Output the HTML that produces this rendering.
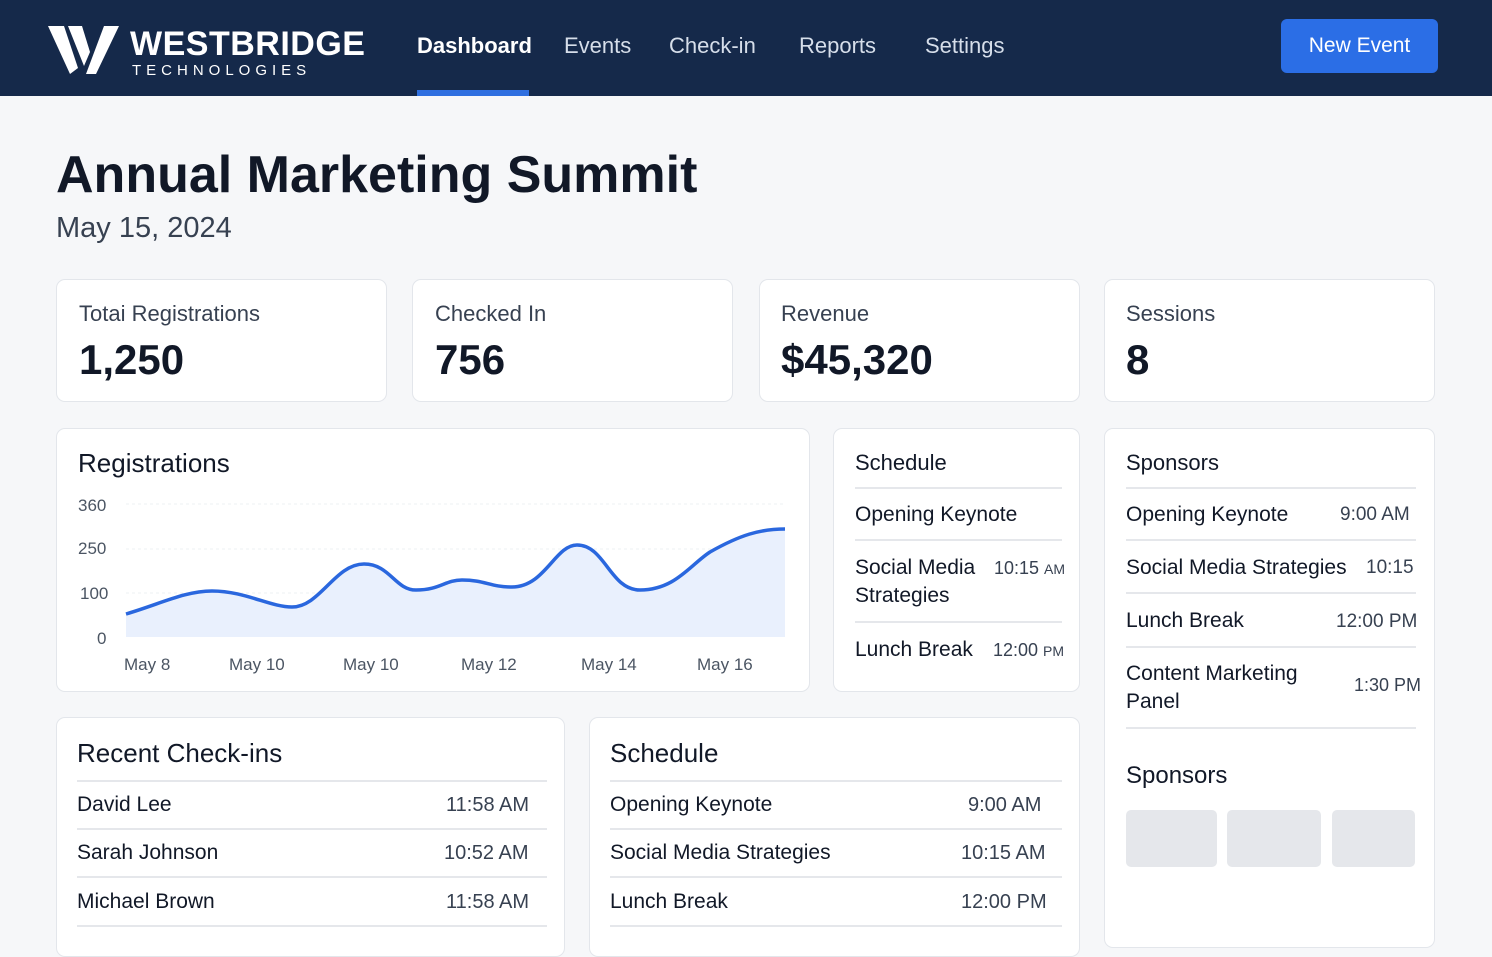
<!DOCTYPE html>
<html><head><meta charset="utf-8"><style>
*{box-sizing:border-box;margin:0;padding:0}
body{width:1492px;height:938px;overflow:hidden;background:#f6f7f9;font-family:"Liberation Sans",sans-serif;color:#111827;position:relative}
.a{position:absolute;white-space:nowrap}
.hdr{position:absolute;left:0;top:0;width:1492px;height:96px;background:#15294a}
.nav{font-size:22px;color:#d6deea;top:33px}
.card{position:absolute;background:#fff;border:1.5px solid #e3e6eb;border-radius:9px}
.lbl{font-size:22px;color:#374151}
.big{font-size:42px;font-weight:bold;color:#111827}
.t{font-size:21px;color:#111827}
.tm{font-size:19px;color:#374151}
.ln{position:absolute;height:1.5px;background:#e5e7eb}
.ax{font-size:17px;color:#4b5563}
</style></head><body>
<div class="hdr"></div>
<svg class="a" style="left:48px;top:24px" width="72" height="52" viewBox="0 0 72 52"><polygon points="0,2 16,2 30,44 22,50" fill="#fff"/><polygon points="20,2 34,2 42,28 36,42" fill="#fff"/><polygon points="56,2 71,2 48,50 38,50" fill="#fff"/></svg>
<div class="a" style="left:130px;top:25px;font-size:34px;font-weight:bold;color:#fff;letter-spacing:0.5px">WESTBRIDGE</div>
<div class="a" style="left:132px;top:62px;font-size:15px;color:#fff;letter-spacing:5px">TECHNOLOGIES</div>
<div class="a nav" style="left:417px;color:#fff;font-weight:bold">Dashboard</div>
<div class="a" style="left:417px;top:90px;width:112px;height:6px;background:#2f6fe0"></div>
<div class="a nav" style="left:564px">Events</div>
<div class="a nav" style="left:669px">Check-in</div>
<div class="a nav" style="left:799px">Reports</div>
<div class="a nav" style="left:925px">Settings</div>
<div class="a" style="left:1281px;top:19px;width:157px;height:54px;background:#2b6ee6;border-radius:6px;color:#fff;font-size:21px;text-align:center;line-height:54px">New Event</div>

<div class="a" style="left:56px;top:145px;font-size:52px;font-weight:bold;color:#111827">Annual Marketing Summit</div>
<div class="a" style="left:56px;top:212px;font-size:29px;color:#374151">May 15, 2024</div>

<div class="card" style="left:56px;top:279px;width:331px;height:123px"></div>
<div class="a lbl" style="left:79px;top:301px">Totai Registrations</div>
<div class="a big" style="left:79px;top:336px">1,250</div>
<div class="card" style="left:412px;top:279px;width:321px;height:123px"></div>
<div class="a lbl" style="left:435px;top:301px">Checked In</div>
<div class="a big" style="left:435px;top:336px">756</div>
<div class="card" style="left:759px;top:279px;width:321px;height:123px"></div>
<div class="a lbl" style="left:781px;top:301px">Revenue</div>
<div class="a big" style="left:781px;top:336px">$45,320</div>
<div class="card" style="left:1104px;top:279px;width:331px;height:123px"></div>
<div class="a lbl" style="left:1126px;top:301px">Sessions</div>
<div class="a big" style="left:1126px;top:336px">8</div>

<!-- chart -->
<div class="card" style="left:56px;top:428px;width:754px;height:264px"></div>
<div class="a" style="left:78px;top:448px;font-size:26px;color:#111827">Registrations</div>
<div class="a ax" style="left:78px;top:496px">360</div>
<div class="a ax" style="left:78px;top:539px">250</div>
<div class="a ax" style="left:80px;top:584px">100</div>
<div class="a ax" style="left:97px;top:629px">0</div>
<svg class="a" style="left:0;top:0" width="820" height="700">
<line x1="126" y1="504" x2="786" y2="504" stroke="#eef0f3" stroke-dasharray="3 3"/>
<line x1="126" y1="549" x2="786" y2="549" stroke="#eef0f3" stroke-dasharray="3 3"/>
<line x1="126" y1="593" x2="786" y2="593" stroke="#eef0f3" stroke-dasharray="3 3"/>
<path d="M126,614 C160,604 185,591 212,591 C245,591 270,607 292,607 C320,607 335,564 364,564 C390,564 395,590 416,590 C440,590 445,580 462,580 C485,580 490,587 512,587 C545,587 555,545 577,545 C605,545 610,590 640,590 C675,590 690,565 710,552 C740,535 760,529 785,529 L785,637 L126,637 Z" fill="#e9f0fd"/>
<path d="M126,614 C160,604 185,591 212,591 C245,591 270,607 292,607 C320,607 335,564 364,564 C390,564 395,590 416,590 C440,590 445,580 462,580 C485,580 490,587 512,587 C545,587 555,545 577,545 C605,545 610,590 640,590 C675,590 690,565 710,552 C740,535 760,529 785,529" fill="none" stroke="#2a67de" stroke-width="3.5"/>
</svg>
<div class="a ax" style="left:124px;top:655px">May 8</div>
<div class="a ax" style="left:229px;top:655px">May 10</div>
<div class="a ax" style="left:343px;top:655px">May 10</div>
<div class="a ax" style="left:461px;top:655px">May 12</div>
<div class="a ax" style="left:581px;top:655px">May 14</div>
<div class="a ax" style="left:697px;top:655px">May 16</div>

<!-- schedule small -->
<div class="card" style="left:833px;top:428px;width:247px;height:264px"></div>
<div class="a t" style="left:855px;top:450px;font-size:22px">Schedule</div>
<div class="ln" style="left:855px;top:487px;width:207px"></div>
<div class="a t" style="left:855px;top:503px">Opening Keynote</div>
<div class="ln" style="left:855px;top:539px;width:207px"></div>
<div class="a t" style="left:855px;top:556px">Social Media</div>
<div class="a t" style="left:855px;top:584px">Strategies</div>
<div class="a tm" style="left:994px;top:558px;font-size:18px">10:15 <span style="font-size:14px">AM</span></div>
<div class="ln" style="left:855px;top:621px;width:207px"></div>
<div class="a t" style="left:855px;top:638px">Lunch Break</div>
<div class="a tm" style="left:993px;top:640px;font-size:18px">12:00 <span style="font-size:14px">PM</span></div>

<!-- sponsors -->
<div class="card" style="left:1104px;top:428px;width:331px;height:520px"></div>
<div class="a t" style="left:1126px;top:450px;font-size:22px">Sponsors</div>
<div class="ln" style="left:1126px;top:487px;width:290px"></div>
<div class="a t" style="left:1126px;top:503px">Opening Keynote</div>
<div class="a tm" style="left:1340px;top:504px">9:00 AM</div>
<div class="ln" style="left:1126px;top:539px;width:290px"></div>
<div class="a t" style="left:1126px;top:556px">Social Media Strategies</div>
<div class="a tm" style="left:1366px;top:557px">10:15</div>
<div class="ln" style="left:1126px;top:592px;width:290px"></div>
<div class="a t" style="left:1126px;top:609px">Lunch Break</div>
<div class="a tm" style="left:1336px;top:611px">12:00 PM</div>
<div class="ln" style="left:1126px;top:646px;width:290px"></div>
<div class="a t" style="left:1126px;top:662px">Content Marketing</div>
<div class="a t" style="left:1126px;top:690px">Panel</div>
<div class="a tm" style="left:1354px;top:675px;font-size:18px">1:30 PM</div>
<div class="ln" style="left:1126px;top:727px;width:290px"></div>
<div class="a t" style="left:1126px;top:762px;font-size:24px">Sponsors</div>
<div class="a" style="left:1126px;top:810px;width:91px;height:57px;background:#e5e7eb;border-radius:5px"></div>
<div class="a" style="left:1227px;top:810px;width:94px;height:57px;background:#e5e7eb;border-radius:5px"></div>
<div class="a" style="left:1332px;top:810px;width:83px;height:57px;background:#e5e7eb;border-radius:5px"></div>

<!-- recent checkins -->
<div class="card" style="left:56px;top:717px;width:509px;height:240px"></div>
<div class="a t" style="left:77px;top:738px;font-size:26px">Recent Check-ins</div>
<div class="ln" style="left:77px;top:780px;width:470px"></div>
<div class="a t" style="left:77px;top:793px">David Lee</div><div class="a tm" style="left:446px;top:794px;font-size:20px">11:58 AM</div>
<div class="ln" style="left:77px;top:828px;width:470px"></div>
<div class="a t" style="left:77px;top:841px">Sarah Johnson</div><div class="a tm" style="left:444px;top:842px;font-size:20px">10:52 AM</div>
<div class="ln" style="left:77px;top:876px;width:470px"></div>
<div class="a t" style="left:77px;top:890px">Michael Brown</div><div class="a tm" style="left:446px;top:891px;font-size:20px">11:58 AM</div>
<div class="ln" style="left:77px;top:925px;width:470px"></div>

<!-- schedule big -->
<div class="card" style="left:589px;top:717px;width:491px;height:240px"></div>
<div class="a t" style="left:610px;top:738px;font-size:26px">Schedule</div>
<div class="ln" style="left:610px;top:780px;width:452px"></div>
<div class="a t" style="left:610px;top:793px">Opening Keynote</div><div class="a tm" style="left:968px;top:794px;font-size:20px">9:00 AM</div>
<div class="ln" style="left:610px;top:828px;width:452px"></div>
<div class="a t" style="left:610px;top:841px">Social Media Strategies</div><div class="a tm" style="left:961px;top:842px;font-size:20px">10:15 AM</div>
<div class="ln" style="left:610px;top:876px;width:452px"></div>
<div class="a t" style="left:610px;top:890px">Lunch Break</div><div class="a tm" style="left:961px;top:891px;font-size:20px">12:00 PM</div>
<div class="ln" style="left:610px;top:925px;width:452px"></div>
</body></html>
